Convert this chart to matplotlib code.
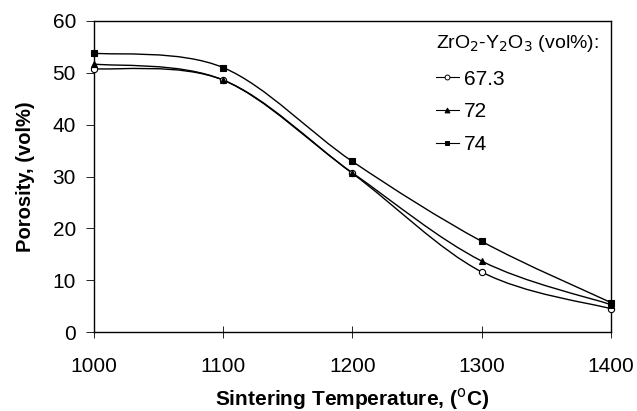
import numpy as np
import matplotlib
matplotlib.use("Agg")
import matplotlib.pyplot as plt
from matplotlib.path import Path
from matplotlib.patches import PathPatch
from matplotlib.lines import Line2D

plt.rcParams['font.family'] = ['Liberation Sans', 'DejaVu Sans']

# data
temps = [1000, 1100, 1200, 1300, 1400]
por_673 = [50.8, 48.6, 30.6, 11.6, 4.5]
por_72 = [51.7, 48.6, 30.7, 13.7, 5.3]
por_74 = [53.8, 51.0, 32.9, 17.5, 5.7]
labels = ['67.3', '72', '74']


def smooth_path(x, y):
    # excel-like smoothed line: cubic bezier with catmull-rom control points
    x = np.asarray(x, float)
    y = np.asarray(y, float)
    verts = [(x[0], y[0])]
    codes = [Path.MOVETO]
    n = len(x)
    for i in range(n - 1):
        p0 = i - 1 if i > 0 else i
        p3 = i + 2 if i + 2 < n else i + 1
        c1 = (x[i] + (x[i + 1] - x[p0]) / 6, y[i] + (y[i + 1] - y[p0]) / 6)
        c2 = (x[i + 1] - (x[p3] - x[i]) / 6, y[i + 1] - (y[p3] - y[i]) / 6)
        verts += [c1, c2, (x[i + 1], y[i + 1])]
        codes += [Path.CURVE4] * 3
    return Path(verts, codes)


fig = plt.figure(figsize=(6.37, 4.11), dpi=100)
ax = fig.add_axes([0.1476, 0.192, 0.8114, 0.757])

series = [(por_673, 'o', 'white'), (por_72, '^', 'black'), (por_74, 's', 'black')]
handles = []
for vals, mk, fc in series:
    ax.add_patch(PathPatch(smooth_path(temps, vals), fill=False, edgecolor='black', lw=1.0, zorder=2))
    ax.plot(temps, vals, ls='none', marker=mk, ms=4.5 if mk != 's' else 4.2,
            mfc=fc, mec='black', mew=0.8, zorder=3, clip_on=False)
    handles.append(Line2D([], [], color='black', lw=0.8, marker=mk, ms=3.5, mfc=fc, mec='black', mew=0.7))

ax.set_xlim(1000, 1400)
ax.set_ylim(0, 60)
ax.set_xticks(temps)
ax.set_yticks(range(0, 61, 10))
ax.tick_params(axis='x', direction='inout', length=8, width=0.6, labelsize=15, pad=14)
ax.tick_params(axis='y', direction='out', length=6, width=0.6, labelsize=15, pad=7)
for s in ax.spines.values():
    s.set_linewidth(1.0)

ax.set_xlabel('Sintering Temperature, ($^{\\rm o}$C)', fontsize=15, fontweight='bold', labelpad=7)
ax.set_ylabel('Porosity, (vol%)', fontsize=14.5, fontweight='bold', labelpad=13)

leg = ax.legend(handles, labels, title='ZrO$_2$-Y$_2$O$_3$ (vol%):', loc='upper left',
                bbox_to_anchor=(0.625, 1.02), frameon=False, fontsize=15,
                title_fontsize=14, handlelength=1.1, handletextpad=0.25,
                labelspacing=0.65, alignment='left')
leg._legend_box.sep = 11

fig.savefig('out.png', dpi=100)
